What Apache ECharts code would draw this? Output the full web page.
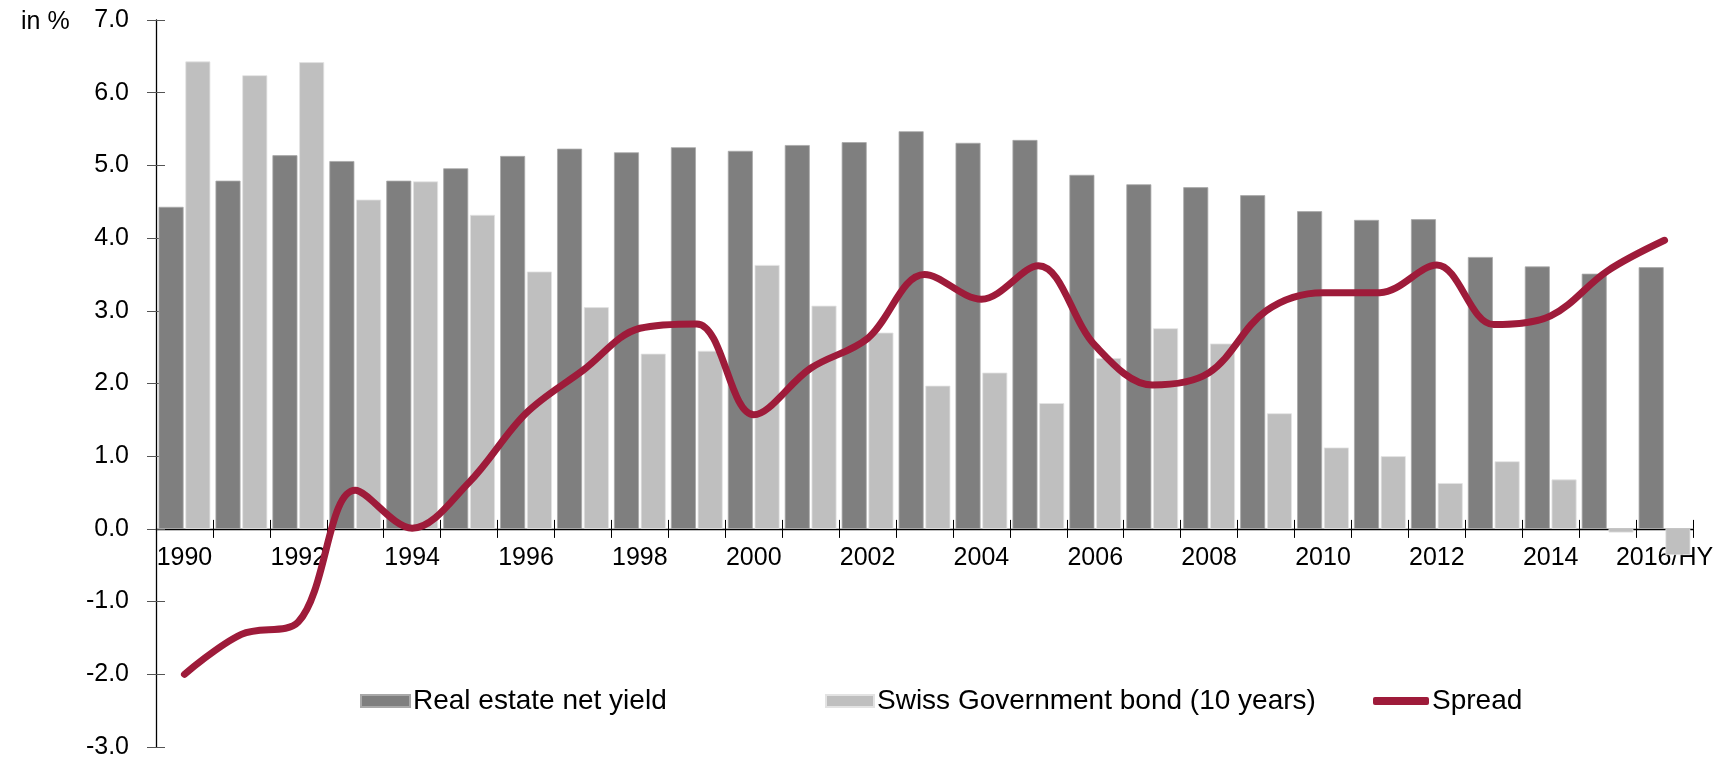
<!DOCTYPE html>
<html>
<head>
<meta charset="utf-8">
<title>Real estate net yield vs Swiss Government bond</title>
<script src="https://cdn.jsdelivr.net/npm/echarts@6/dist/echarts.min.js"></script>
<style>
  html, body { margin: 0; padding: 0; background: #fff; }
  #chart { width: 1729px; height: 763px; }
</style>
</head>
<body>
<div id="chart"></div>
<script>
// data (in %)
const years = ['1990', '1991', '1992', '1993', '1994', '1995', '1996', '1997', '1998', '1999',
  '2000', '2001', '2002', '2003', '2004', '2005', '2006', '2007', '2008', '2009',
  '2010', '2011', '2012', '2013', '2014', '2015', '2016/HY']

const realEstateYield = [4.43, 4.79, 5.14, 5.06, 4.79, 4.96, 5.13, 5.23, 5.18, 5.25,
  5.20, 5.28, 5.32, 5.47, 5.31, 5.35, 4.87, 4.74, 4.70, 4.59,
  4.37, 4.25, 4.26, 3.74, 3.61, 3.51, 3.60]

const bondYield = [6.43, 6.24, 6.42, 4.53, 4.78, 4.32, 3.54, 3.05, 2.41, 2.45,
  3.63, 3.07, 2.70, 1.97, 2.15, 1.73, 2.35, 2.76, 2.55, 1.59,
  1.12, 1.00, 0.63, 0.93, 0.68, -0.05, -0.36]

const spread = [-2.00, -1.45, -1.28, 0.53, 0.01, 0.64, 1.59, 2.18, 2.76, 2.82,
  1.57, 2.21, 2.62, 3.50, 3.16, 3.62, 2.52, 1.98, 2.15, 3.00,
  3.25, 3.25, 3.63, 2.81, 2.93, 3.55, 3.97]

const yTicks = { min: -3, max: 7, interval: 1 }

const FONT = 'Liberation Sans, Arial, sans-serif'

const chart = echarts.init(document.getElementById('chart'))

const legendText = { fontFamily: FONT, fontSize: 28, color: '#000', padding: [0, 0, 0, -2] }

// pixel height of one unit, so the label grid can end exactly at the zero line
const plotTop = 20, plotBottom = 16, chartH = 763
const unit = (chartH - plotTop - plotBottom) / (yTicks.max - yTicks.min)
const zeroFromBottom = plotBottom + (0 - yTicks.min) * unit

chart.setOption({
  animation: false,
  title: {
    text: 'in %',
    left: 16,
    top: 5,
    textStyle: { fontFamily: FONT, fontSize: 25, fontWeight: 'normal', color: '#000' }
  },
  grid: [
    // main plot
    { left: 156, right: 36, top: plotTop, bottom: plotBottom, containLabel: false },
    // ends on the zero line: carries the category labels and the lower half of the ticks
    { left: 156, right: 36, top: plotTop, bottom: zeroFromBottom, containLabel: false }
  ],
  // three legends, placed like the original columns
  legend: [
    {
      data: [{ name: 'Real estate net yield', icon: 'rect' }],
      left: 355, top: 682,
      itemWidth: 49, itemHeight: 12, itemGap: 0,
      textStyle: legendText
    },
    {
      data: [{ name: 'Swiss Government bond (10 years)', icon: 'rect' }],
      left: 820, top: 682,
      itemWidth: 48, itemHeight: 12, itemGap: 0,
      textStyle: legendText
    },
    {
      data: [{ name: 'Spread', icon: 'roundRect' }],
      left: 1368, top: 682,
      itemWidth: 56, itemHeight: 8, itemGap: 0,
      textStyle: legendText
    }
  ],
  xAxis: [
    {
      type: 'category',
      gridIndex: 0,
      data: years,
      axisLine: { show: false, onZero: true },
      axisTick: { show: true, inside: true, interval: 0, length: 9, lineStyle: { color: '#000' } },
      axisLabel: { show: false },
      splitLine: { show: false }
    },
    {
      type: 'category',
      gridIndex: 1,
      data: years,
      axisLine: { onZero: false, lineStyle: { color: '#000', width: 1.3 } },
      axisTick: { show: true, interval: 0, length: 9, lineStyle: { color: '#000' } },
      axisLabel: {
        interval: 1,
        margin: 17,
        fontFamily: FONT,
        fontSize: 25,
        color: '#000'
      },
      splitLine: { show: false }
    }
  ],
  yAxis: [
    {
      type: 'value',
      gridIndex: 0,
      min: yTicks.min,
      max: yTicks.max,
      interval: yTicks.interval,
      axisLine: { show: true, lineStyle: { color: '#000', width: 1.3 } },
      axisTick: { show: false },
      axisLabel: {
        margin: 27,
        fontFamily: FONT,
        fontSize: 25,
        color: '#000',
        formatter: v => v.toFixed(1)
      },
      splitLine: { show: false }
    },
    {
      // shifted 9px inward so its ticks cross the axis line
      type: 'value',
      gridIndex: 0,
      position: 'left',
      offset: -9,
      min: yTicks.min,
      max: yTicks.max,
      interval: yTicks.interval,
      axisLine: { show: false },
      axisTick: { show: true, length: 18, lineStyle: { color: '#555' } },
      axisLabel: { show: false },
      splitLine: { show: false }
    },
    {
      type: 'value',
      gridIndex: 1,
      show: false,
      min: 0,
      max: yTicks.max
    }
  ],
  series: [
    {
      name: 'Real estate net yield',
      type: 'bar',
      data: realEstateYield,
      barWidth: 25,
      barGap: '7%',
      itemStyle: { color: '#7f7f7f', borderColor: '#a9a9a9', borderWidth: 0.8 }
    },
    {
      name: 'Swiss Government bond (10 years)',
      type: 'bar',
      data: bondYield,
      barWidth: 25,
      itemStyle: { color: '#bfbfbf', borderColor: '#e3e3e3', borderWidth: 0.8 }
    },
    {
      name: 'Spread',
      type: 'line',
      data: spread,
      smooth: 0.35,
      symbol: 'none',
      z: 5,
      lineStyle: { color: '#9e1b3a', width: 7, cap: 'round' },
      itemStyle: { color: '#9e1b3a' }
    }
  ]
})
</script>
</body>
</html>
